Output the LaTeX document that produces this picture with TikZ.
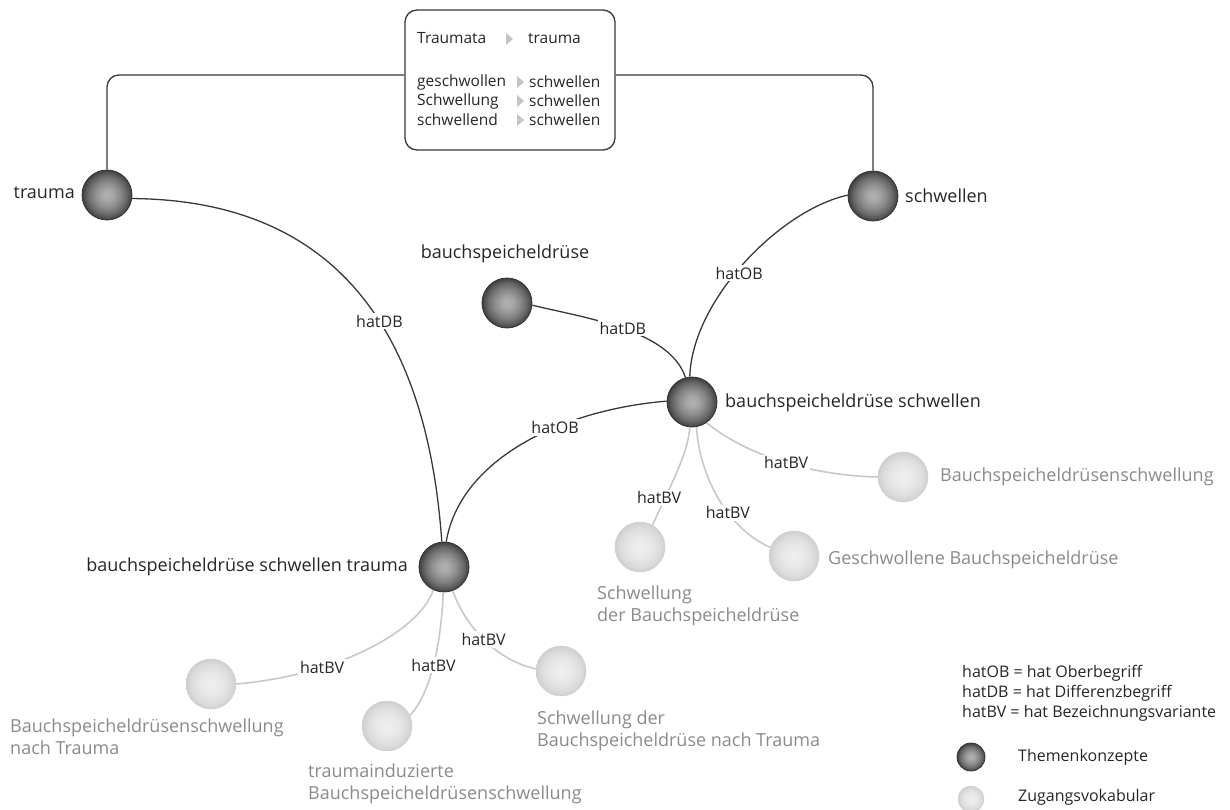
\documentclass[tikz,border=0pt]{standalone}
\usepackage{fontspec}
\setmainfont{Open Sans}

% sphere-like fills for the two kinds of concept nodes (node rim sits at 25bp)
\pgfdeclareradialshading{darkball}{\pgfpoint{0bp}{0bp}}{%
  rgb(0bp)=(0.70,0.70,0.70);rgb(6bp)=(0.65,0.65,0.65);rgb(13bp)=(0.54,0.54,0.54);%
  rgb(19bp)=(0.42,0.42,0.42);rgb(23bp)=(0.31,0.31,0.31);rgb(25bp)=(0.24,0.24,0.24);%
  rgb(50bp)=(0.24,0.24,0.24)}
\pgfdeclareradialshading{lightball}{\pgfpoint{0bp}{0bp}}{%
  rgb(0bp)=(0.94,0.94,0.94);rgb(11bp)=(0.91,0.91,0.91);rgb(20bp)=(0.86,0.86,0.86);%
  rgb(25bp)=(0.81,0.81,0.81);rgb(50bp)=(0.81,0.81,0.81)}

\definecolor{ink}{HTML}{262626}
\definecolor{softink}{HTML}{8A8A8A}
\definecolor{edgedark}{HTML}{383838}
\definecolor{edgelight}{HTML}{C8C8C8}
\definecolor{ballrim}{HTML}{333333}
\definecolor{lightrim}{HTML}{D0D0D0}
\definecolor{pointer}{HTML}{C4C4C4}

\begin{document}
\begin{tikzpicture}[x=1pt, y=-1pt,
  concept/.style={circle, minimum size=50pt, inner sep=0pt, shading=darkball, draw=ballrim, line width=0.8pt},
  access/.style={circle, minimum size=50pt, inner sep=0pt, shading=lightball, draw=lightrim, line width=0.5pt},
  conceptlabel/.style={text=ink, font=\fontsize{18}{22}\selectfont, inner sep=0pt},
  accesslabel/.style={text=softink, font=\fontsize{18}{22}\selectfont, inner sep=0pt, align=left},
  rel/.style={draw=edgedark, line width=1.3pt},
  var/.style={draw=edgelight, line width=1.6pt},
  rellabel/.style={fill=white, text=ink, font=\fontsize{16}{19}\selectfont, inner sep=2pt},
  boxtext/.style={text=ink, font=\fontsize{15.5}{19}\selectfont, inner sep=0pt, anchor=west},
  legendtext/.style={text=ink, font=\fontsize{16}{20}\selectfont, inner sep=0pt, align=left}
]
\useasboundingbox (0,0) rectangle (1230,809);

% ---- lemmatisation box ----
\node[draw=edgedark, line width=1.3pt, rounded corners=12pt, minimum width=210pt, minimum height=140pt] (lexbox) at (510,80) {};
\node[boxtext] (lxa) at (417,38) {Traumata};
\node[boxtext] (lxb) at (528,38) {trauma};
\node[boxtext] (lxc) at (417,82) {geschwollen};
\node[boxtext] (lxd) at (529,82) {schwellen};
\node[boxtext] (lxe) at (417,101) {Schwellung};
\node[boxtext] (lxf) at (529,101) {schwellen};
\node[boxtext] (lxg) at (417,120) {schwellend};
\node[boxtext] (lxh) at (529,120) {schwellen};
\fill[pointer] (506,33) -- (513,39) -- (506,45) -- cycle;
\fill[pointer] (517,76) -- (524,82) -- (517,88) -- cycle;
\fill[pointer] (517,95) -- (524,101) -- (517,107) -- cycle;
\fill[pointer] (517,114) -- (524,120) -- (517,126) -- cycle;

% ---- topic concepts ----
\node[concept] (trauma) at (107,195) {};
\node[concept] (schw) at (873,196) {};
\node[concept] (bsp) at (507,303) {};
\node[concept] (bss) at (692,402) {};
\node[concept] (bst) at (444,567) {};

\node[conceptlabel, anchor=east] (ltrauma) at (75,193) {trauma};
\node[conceptlabel, anchor=west] (lschw) at (905,196) {schwellen};
\node[conceptlabel] (lbsp) at (505,254) {bauchspeicheldrüse};
\node[conceptlabel, anchor=west] (lbss) at (725,403) {bauchspeicheldrüse schwellen};
\node[conceptlabel, anchor=east] (lbst) at (408,567) {bauchspeicheldrüse schwellen trauma};

% ---- access vocabulary ----
\node[access] (vright) at (903,477) {};
\node[access] (vgesch) at (794,556) {};
\node[access] (vsdb) at (640,547) {};
\node[access] (vbnt) at (211,684) {};
\node[access] (vtib) at (387,726) {};
\node[access] (vsnt) at (561,671) {};

\node[accesslabel, anchor=west] (lvright) at (940,477) {Bauchspeicheldrüsenschwellung};
\node[accesslabel, anchor=west] (lvgesch) at (828,560) {Geschwollene Bauchspeicheldrüse};
\node[accesslabel, anchor=north west] (lvsdb) at (597,586) {Schwellung\\der Bauchspeicheldrüse};
\node[accesslabel, anchor=north west] (lvbnt) at (10,719) {Bauchspeicheldrüsenschwellung\\nach Trauma};
\node[accesslabel, anchor=north west] (lvtib) at (308,764) {traumainduzierte\\Bauchspeicheldrüsenschwellung};
\node[accesslabel, anchor=north west] (lvsnt) at (537,711) {Schwellung der\\Bauchspeicheldrüse nach Trauma};

% ---- connectors from the lemmatisation box ----
\draw[rel, rounded corners=12pt] ([yshift=5pt]lexbox.west) -| (trauma.north);
\draw[rel, rounded corners=12pt] ([yshift=5pt]lexbox.east) -| (schw.north);

% ---- concept relations ----
\draw[rel] (trauma.-8) .. controls (310,200) and (425,300) .. node[rellabel, pos=0.61] {hatDB} (bst.95);
\draw[rel] (schw.178) .. controls (780,210) and (692,300) .. node[rellabel, pos=0.55, xshift=4pt] {hatOB} (bss.95);
\draw[rel] (bsp.-5) .. controls (585,318) and (670,330) .. node[rellabel, pos=0.5] {hatDB} (bss.105);
\draw[rel] (bss.178) .. controls (560,410) and (460,460) .. node[rellabel, pos=0.37] {hatOB} (bst.85);

% ---- variant relations ----
\draw[var] (bss.-55) .. controls (740,450) and (800,475) .. node[rellabel, pos=0.56] {hatBV} (vright.180);
\draw[var] (bss.-80) .. controls (700,480) and (730,530) .. node[rellabel, pos=0.6] {hatBV} (vgesch.160);
\draw[var] (bss.-95) .. controls (688,455) and (668,490) .. node[rellabel, pos=0.74, xshift=-6pt] {hatBV} (vsdb.60);
\draw[var] (bst.-115) .. controls (420,630) and (340,675) .. node[rellabel, pos=0.7] {hatBV} (vbnt.0);
\draw[var] (bst.-92) .. controls (442,630) and (434,690) .. node[rellabel, pos=0.55] {hatBV} (vtib.25);
\draw[var] (bst.-70) .. controls (465,625) and (495,660) .. node[rellabel, pos=0.5] {hatBV} (vsnt.175);

% ---- legend ----
\node[legendtext, anchor=north west] (legrel) at (962,665) {hatOB = hat Oberbegriff\\hatDB = hat Differenzbegriff\\hatBV = hat Bezeichnungsvariante};
\node[concept, minimum size=28pt] (legdark) at (971,757) {};
\node[access, minimum size=26pt] (leglight) at (971,799) {};
\node[legendtext, anchor=west] (legdarktext) at (1018,757) {Themenkonzepte};
\node[legendtext, anchor=west] (leglighttext) at (1018,797) {Zugangsvokabular};
\end{tikzpicture}
\end{document}
